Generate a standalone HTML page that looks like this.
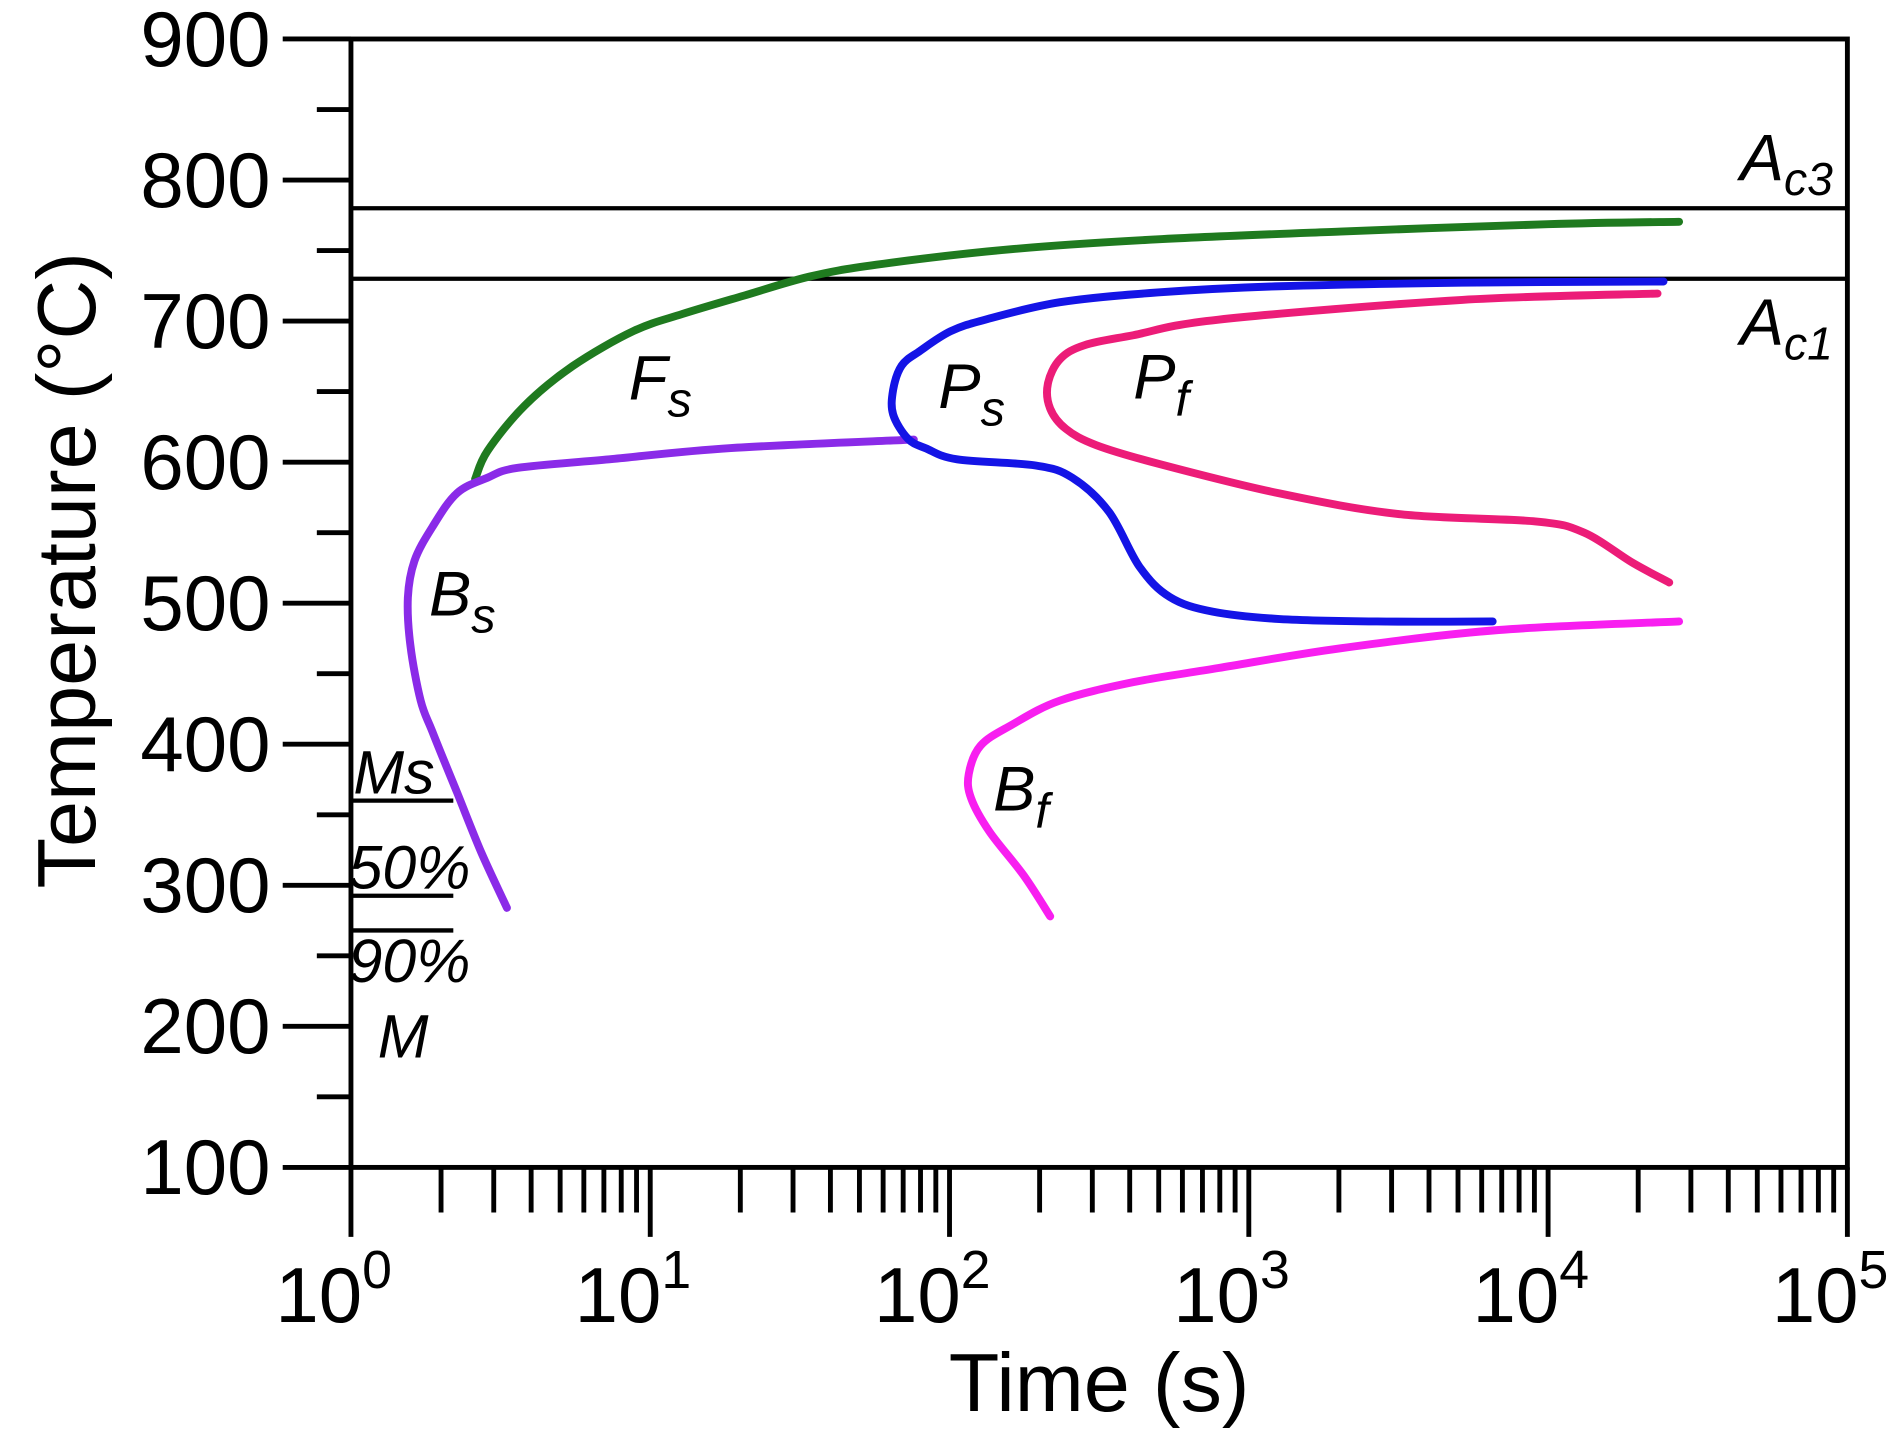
<!DOCTYPE html>
<html><head><meta charset="utf-8"><style>
html,body{margin:0;padding:0;background:#fff;}
svg{display:block;}
text{font-family:"Liberation Sans",Arial,sans-serif;fill:#000;}
.it{font-style:italic;}
</style></head><body>
<svg id="chart" width="1901" height="1435" viewBox="0 0 1560 1177.6" preserveAspectRatio="none" xmlns="http://www.w3.org/2000/svg">
<g id="axes"></g>
<g id="curves"></g>
<g id="labels">
<text x="0" y="0" font-size="68" text-anchor="middle" transform="translate(78,468) rotate(-90)">Temperature (°C)</text>
<text x="902" y="1158" font-size="68" text-anchor="middle">Time (s)</text>
<text class="it" x="1428" y="148" font-size="54">A<tspan font-size="38" dy="12">c3</tspan></text>
<text class="it" x="1428" y="283" font-size="54">A<tspan font-size="38" dy="12">c1</tspan></text>
<text class="it" x="516" y="328" font-size="52">F<tspan font-size="40" dy="14">s</tspan></text>
<text class="it" x="770" y="335" font-size="52">P<tspan font-size="40" dy="14">s</tspan></text>
<text class="it" x="930" y="327" font-size="52">P<tspan font-size="40" dy="14">f</tspan></text>
<text class="it" x="352" y="505" font-size="52">B<tspan font-size="40" dy="14">s</tspan></text>
<text class="it" x="815" y="665" font-size="52">B<tspan font-size="40" dy="14">f</tspan></text>
<text class="it" x="290" y="651" font-size="50">Ms</text>
<text class="it" x="286" y="729" font-size="50">50%</text>
<text class="it" x="286" y="806" font-size="50">90%</text>
<text class="it" x="310" y="868" font-size="50">M</text>
</g>
</svg>
<script>
const fsTime=[2.6,2.86,3.8,5.5,8.8,12.8,20.5,34,57,161,496,2024,9960,27400];
const fsTemp=[588,608,640,668,693,705,718,731.5,740,751,758,763.5,768.7,770.4];
const bsTime=[3.32,2.73,2.26,1.87,1.71,1.58,1.55,1.63,1.87,2.26,2.86,3.61,7.3,18.6,76];
const bsTemp=[284,323,366,409,431,470,504,530,554,578,589,596,602,610,616];
const psTime=[24300,5160,1267,496,234,133,100.7,79.6,69.2,64.8,64.8,72.6,83.5,106,194,257,341,431,545,757,1267,2680,6530];
const psTemp=[728.1,727.2,724.7,720.3,713.4,701.3,692.7,678.8,668.5,651.2,633.9,616.6,609.7,602,597.6,589,564.8,525.9,504.3,494,488.8,487,487];
const pfTime=[23200,5160,792,411,283,234,213,217,245,310,496,1267,3230,9070,13200,19200,25400];
const pfTemp=[719.5,715,701,690,683,673,655.5,638,623.5,612,599,577.8,563,558,550,528.5,514.7];
const bfTime=[217,177,136,118,116,127,161,234,411,792,2024,6840,27400];
const bfTemp=[278,307,338,361.8,379,399,413.6,431,444,454,468,481,487];
const yTicks=[100,200,300,400,500,600,700,800,900];
const xDecades=[0,1,2,3,4,5];
const ac3Temp=780, ac1Temp=730;
const msTemps=[360,292.6,268];

const X0=288,X1=1516,DEC=245.6,YB=958,YK=1.1575;
function xs(t){return X0+Math.log10(t)*DEC;}
function ys(T){return YB-(T-100)*YK;}
const NS='http://www.w3.org/2000/svg';
function mk(tag,attrs,parent){const e=document.createElementNS(NS,tag);for(const k in attrs)e.setAttribute(k,attrs[k]);parent.appendChild(e);return e;}
const axes=document.getElementById('axes');
const curves=document.getElementById('curves');

const fr=mk('rect',{x:X0,y:ys(900),width:X1-X0,height:ys(100)-ys(900),fill:'none',stroke:'#000','stroke-width':4},axes);



yTicks.forEach(T=>{
  const l=mk('line',{x1:232,x2:X0,y1:ys(T),y2:ys(T),stroke:'#000','stroke-width':4},axes);
  
  
  const t=mk('text',{x:222,y:ys(T)+22,'font-size':64,'text-anchor':'end'},axes);
  t.textContent=T;
  
  
  if(T<900){
    const m=mk('line',{x1:260,x2:X0,y1:ys(T+50),y2:ys(T+50),stroke:'#000','stroke-width':4},axes);
    
    
  }
});
xDecades.forEach(d=>{
  const x=X0+d*DEC;
  const l=mk('line',{x1:x,x2:x,y1:YB,y2:1015,stroke:'#000','stroke-width':4},axes);
  
  
  const t=mk('text',{x:x-62,y:1085,'font-size':64},axes);
  t.textContent='10';
  const s=mk('tspan',{'font-size':44,dy:-28},t);
  s.textContent=d;
  
  
  if(d<5){for(let k=2;k<=9;k++){
    const xm=X0+(d+Math.log10(k))*DEC;
    const m=mk('line',{x1:xm,x2:xm,y1:YB,y2:995,stroke:'#000','stroke-width':4},axes);
    
    
  }}
});
[[ac3Temp,'ac3-line'],[ac1Temp,'ac1-line']].forEach(([T,n])=>{
  const l=mk('line',{x1:X0,x2:X1,y1:ys(T),y2:ys(T),stroke:'#000','stroke-width':3.5},axes);
  
  
});
msTemps.forEach((T,i)=>{
  const l=mk('line',{x1:X0,x2:372,y1:ys(T),y2:ys(T),stroke:'#000','stroke-width':3.5},axes);
  
  
});
function curve(ts,Ts,color,name){
  const P=ts.map((t,i)=>[xs(t),ys(Ts[i])]);
  let d='M'+P[0][0].toFixed(1)+','+P[0][1].toFixed(1);
  for(let i=0;i<P.length-1;i++){
    const p0=P[Math.max(0,i-1)],p1=P[i],p2=P[i+1],p3=P[Math.min(P.length-1,i+2)];
    const c1=[p1[0]+(p2[0]-p0[0])/6,p1[1]+(p2[1]-p0[1])/6];
    const c2=[p2[0]-(p3[0]-p1[0])/6,p2[1]-(p3[1]-p1[1])/6];
    d+=' C'+c1.map(v=>v.toFixed(1)).join(',')+' '+c2.map(v=>v.toFixed(1)).join(',')+' '+p2[0].toFixed(1)+','+p2[1].toFixed(1);
  }
  const p=mk('path',{d:d,fill:'none',stroke:color,'stroke-width':6.5,'stroke-linejoin':'round','stroke-linecap':'round'},curves);
  
  
}
curve(fsTime,fsTemp,'#1f7a1f','ferrite-start-curve');
curve(bsTime,bsTemp,'#8a2be8','bainite-start-curve');
curve(psTime,psTemp,'#1414e6','pearlite-start-curve');
curve(pfTime,pfTemp,'#ec1c78','pearlite-finish-curve');
curve(bfTime,bfTemp,'#f81ef0','bainite-finish-curve');
</script>
</body></html>
